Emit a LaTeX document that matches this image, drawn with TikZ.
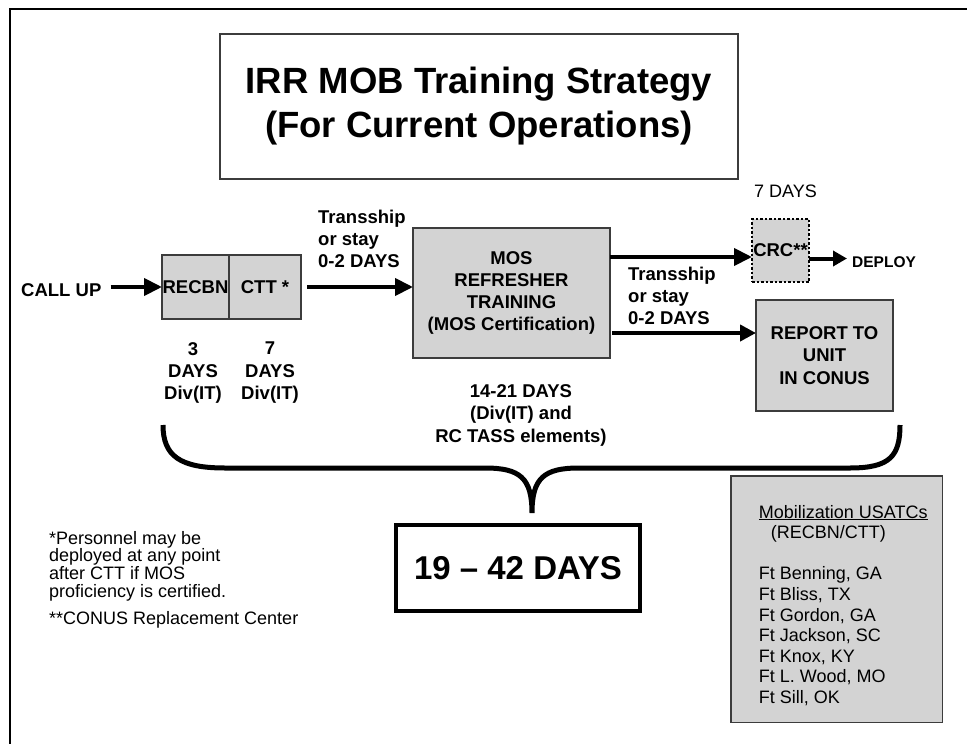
\documentclass[tikz,border=0pt]{standalone}
\usepackage{fontspec}
\setmainfont{Liberation Sans}
\usetikzlibrary{arrows.meta,positioning}
\definecolor{boxgray}{RGB}{211,211,211}
\definecolor{edgegray}{RGB}{60,60,60}
\begin{document}
\begin{tikzpicture}[x=1pt,y=-1pt,line join=miter,
	grbox/.style={draw=edgegray,fill=boxgray,line width=1.5pt,inner sep=0pt,outer sep=0pt},
	bf/.style={font=\fontsize{18.5}{22.3}\selectfont\bfseries},
	rg/.style={font=\fontsize{18}{20.6}\selectfont},
	arrw/.style={line width=4pt,-{Triangle[length=18pt,width=17pt]}}]
	\useasboundingbox (0,0) rectangle (967,744);
	%khung ngoai
	\draw[line width=2.5pt] (10,744)--(10,9)--(967,9);
	%tieu de
	\node[draw=edgegray,line width=1.5pt,minimum width=518pt,minimum height=145pt,align=center,font=\fontsize{36.5}{44}\selectfont\bfseries] (title) at (479,106.5) {IRR MOB Training Strategy\\(For Current Operations)};
	%RECBN, CTT
	\node[bf,anchor=west,inner sep=0pt] (callup) at (21,290) {CALL UP};
	\node[grbox,bf,minimum width=67pt,minimum height=64pt] (recbn) at (195.5,287) {RECBN};
	\node[grbox,bf,minimum width=72pt,minimum height=64pt,right=0pt of recbn] (ctt) {CTT *};
	\draw[arrw] ([xshift=9pt]callup.east |- recbn.west) -- (recbn.west);
	\node[bf,align=center,anchor=north,inner sep=0pt] (recbnd) at (193,342) {3\\DAYS\\Div(IT)};
	\node[bf,align=center,anchor=north,inner sep=0pt] (cttd) at (270,342) {7\\DAYS\\Div(IT)};
	%MOS
	\node[grbox,bf,align=center,minimum width=197pt,minimum height=130pt] (mos) at (511.5,293) {MOS\\REFRESHER\\TRAINING\\(MOS Certification)};
	\draw[arrw] ([xshift=6pt]ctt.east) -- (ctt.east -| mos.west);
	\node[bf,align=left,anchor=north west,inner sep=0pt] (ts1) at (318,209.5) {Transship\\or stay\\0-2 DAYS};
	\node[bf,align=center,anchor=north,inner sep=0pt] (mosd) at (521,384.5) {14-21 DAYS\\(Div(IT) and\\RC TASS elements)};
	%CRC
	\node[bf,fill=boxgray,draw=black,line width=2.5pt,dash pattern=on 2.5pt off 2pt,minimum width=57pt,minimum height=63pt,inner sep=0pt,outer sep=0pt] (crc) at (780.5,250.5) {CRC**};
	\node[rg,inner sep=0pt] (crcd) at (785.5,191) {7 DAYS};
	\node[font=\fontsize{15.5}{18}\selectfont\bfseries,anchor=west,inner sep=0pt] (deploy) at (852,262.5) {DEPLOY};
	\draw[arrw] ([yshift=36pt]mos.east) coordinate (m1) -- (m1 -| crc.west);
	\draw[line width=4pt,-{Triangle[length=14pt,width=15pt]}] ([yshift=-8pt]crc.east) coordinate (c1) -- ([xshift=-5pt]c1 -| deploy.west);
	%REPORT
	\node[grbox,bf,align=center,minimum width=137pt,minimum height=111pt] (report) at (824.5,355.5) {REPORT TO\\UNIT\\IN CONUS};
	\draw[line width=4pt,-{Triangle[length=16pt,width=16pt]}] ([xshift=2pt,yshift=-40pt]mos.east) coordinate (m2) -- (m2 -| report.west);
	\node[bf,align=left,anchor=north west,inner sep=0pt] (ts2) at (628,266.5) {Transship\\or stay\\0-2 DAYS};
	%ngoac
	\draw[line width=5pt] (163,425) .. controls (163,456) and (180,468) .. (225,468) -- (485,468) .. controls (520,468) and (532,478) .. (532,513) .. controls (532,478) and (544,468) .. (579,468) -- (850,468) .. controls (890,468) and (900,456) .. (900,425);
	\node[draw,line width=4pt,minimum width=244pt,minimum height=86pt,font=\fontsize{33}{40}\selectfont\bfseries] (total) at (518,568) {19 -- 42 DAYS};
	%ghi chu
	\node[font=\fontsize{18}{17.7}\selectfont,align=left,anchor=north west,inner sep=0pt] (note) at (49,531) {*Personnel may be\\deployed at any point\\after CTT if MOS\\proficiency is certified.\\[9pt]**CONUS Replacement Center};
	\node[grbox,minimum width=211.5pt,minimum height=246.5pt] (usatcbox) at (836.5,599) {};
	\node[rg,align=left,anchor=north west,inner sep=0pt] (usatc) at ([xshift=28pt,yshift=-29pt]usatcbox.north west) {\underline{Mobilization USATCs}\\\hspace*{12pt}(RECBN/CTT)\\[20.6pt]Ft Benning, GA\\Ft Bliss, TX\\Ft Gordon, GA\\Ft Jackson, SC\\Ft Knox, KY\\Ft L. Wood, MO\\Ft Sill, OK};
\end{tikzpicture}
\end{document}
